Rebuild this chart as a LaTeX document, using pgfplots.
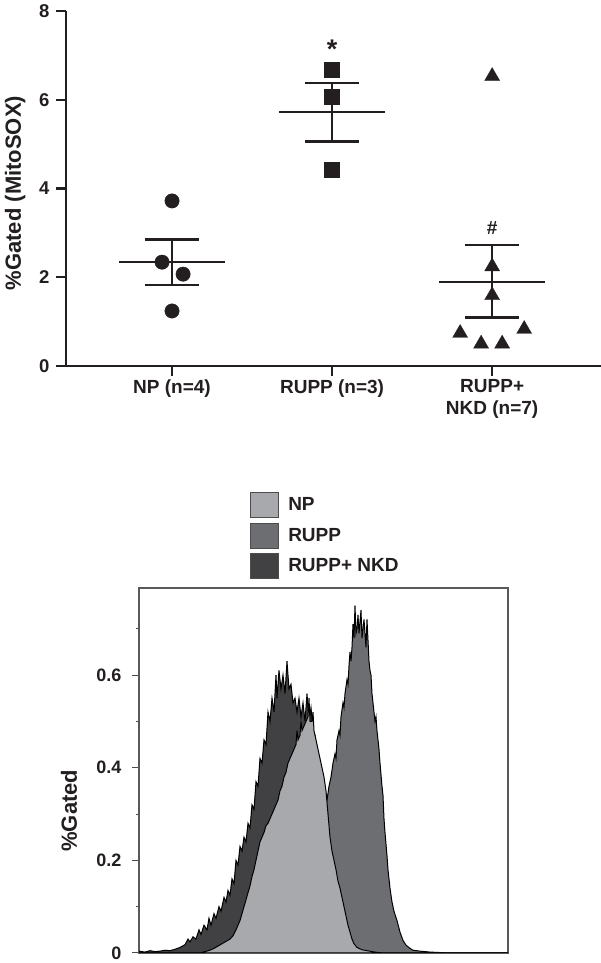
\documentclass[border=0pt]{standalone}
\usepackage{fontspec}
\setmainfont{Liberation Sans}
\usepackage{pgfplots}
\pgfplotsset{compat=1.18}
\definecolor{ink}{HTML}{231F20}
\definecolor{npgray}{HTML}{A7A9AC}
\definecolor{ruppgray}{HTML}{6D6E71}
\definecolor{nkdgray}{HTML}{414042}

\begin{document}
\begin{tikzpicture}[x=1pt,y=1pt]
\useasboundingbox (0,0) rectangle (601,963);

% ---- scatter: %Gated (MitoSOX) ----
\begin{axis}[
  at={(66pt,597pt)}, anchor=south west, scale only axis,
  width=535pt, height=355pt,
  xmin=-0.6625, xmax=2.68, ymin=0, ymax=8,
  axis lines*=left,
  axis line style={ink, line width=2.6pt},
  tick align=outside, major tick length=10pt,
  tick style={ink, line width=2.2pt},
  xtick={0,1,2}, ytick={0,2,4,6,8},
  xticklabels={NP (n=4), RUPP (n=3), {RUPP+\\NKD (n=7)}},
  xticklabel style={font=\bfseries\fontsize{19}{22}\selectfont, text=ink, align=center},
  yticklabel style={font=\bfseries\fontsize{18.5}{18.5}\selectfont, text=ink, xshift=-3pt},
  /pgf/number format/assume math mode=true,
  ylabel={\%Gated (MitoSOX)},
  ylabel style={font=\bfseries\fontsize{22}{22}\selectfont, text=ink,
                at={(axis description cs:-0.095,0.487)}, anchor=center},
  clip=false,
]
\addplot[only marks, mark=*, mark size=7.2pt, ink]
  coordinates {(0,3.72)(-0.0625,2.34)(0.069,2.07)(0,1.24)};
\addplot[only marks, mark=square*, mark size=7.5pt, ink]
  coordinates {(1,6.67)(1,6.06)(1,4.43)};
\addplot[only marks, mark=triangle*, mark size=8.6pt, ink]
  coordinates {(2,6.53)(2,2.24)(2,1.59)(1.8,0.74)(1.931,0.50)(2.0625,0.50)(2.2,0.83)};
% mean and SEM
\addplot[ink, line width=2.3pt] coordinates {(-0.33,2.34)(0.33,2.34)};
\addplot[ink, line width=2.3pt] coordinates {(-0.17,2.85)(0.17,2.85)};
\addplot[ink, line width=2.3pt] coordinates {(-0.17,1.83)(0.17,1.83)};
\addplot[ink, line width=2.3pt] coordinates {(0,1.83)(0,2.85)};
\addplot[ink, line width=2.3pt] coordinates {(0.67,5.72)(1.33,5.72)};
\addplot[ink, line width=2.3pt] coordinates {(0.83,6.38)(1.17,6.38)};
\addplot[ink, line width=2.3pt] coordinates {(0.83,5.06)(1.17,5.06)};
\addplot[ink, line width=2.3pt] coordinates {(1,5.06)(1,6.38)};
\addplot[ink, line width=2.3pt] coordinates {(1.67,1.90)(2.33,1.90)};
\addplot[ink, line width=2.3pt] coordinates {(1.83,2.72)(2.17,2.72)};
\addplot[ink, line width=2.3pt] coordinates {(1.83,1.09)(2.17,1.09)};
\addplot[ink, line width=2.3pt] coordinates {(2,1.09)(2,2.72)};
\node[font=\bfseries\fontsize{27}{27}\selectfont, text=ink, anchor=base] at (axis cs:1,6.92) {*};
\node[font=\bfseries\fontsize{19}{19}\selectfont, text=ink, anchor=base] at (axis cs:2,2.97) {\#};
\end{axis}

% ---- histogram ----
\begin{axis}[
  at={(139pt,10pt)}, anchor=south west, scale only axis,
  width=369pt, height=365pt,
  xmin=139, xmax=508, ymin=0, ymax=0.788,
  axis line style={black!65, line width=1.2pt},
  xtick=\empty, ytick={0,0.2,0.4,0.6}, minor ytick={0.1,0.3,0.5,0.7},
  ytick pos=left, tick align=outside,
  major tick length=7pt, minor tick length=3.5pt,
  tick style={black!70, line width=1pt},
  yticklabel style={font=\bfseries\fontsize{18}{18}\selectfont, text=ink, xshift=-7pt},
  /pgf/number format/assume math mode=true,
  ylabel={\%Gated},
  ylabel style={font=\bfseries\fontsize{22}{22}\selectfont, text=ink,
                at={(axis description cs:-0.19,0.39)}, anchor=center},
  legend image code/.code={\draw[#1, draw=black!70, line width=1pt] (0pt,-12.5pt) rectangle (28pt,12.5pt);},
  legend style={at={(axis description cs:0.301,1.263)}, anchor=north west,
                draw=none, fill=none, inner sep=0pt,
                font=\bfseries\fontsize{19}{19}\selectfont, text=ink,
                row sep=4.5pt,
                /tikz/every odd column/.append style={column sep=7pt}},
  legend cell align=left,
]
\addlegendimage{fill=npgray}
\addlegendentry{NP}
\addlegendimage{fill=ruppgray}
\addlegendentry{RUPP}
\addlegendimage{fill=nkdgray}
\addlegendentry{RUPP+ NKD}

\addplot[fill=ruppgray, draw=black, line width=1pt, forget plot] coordinates {
 (260,0)(280,0.005)(290,0.02)(300,0.05)(310,0.1)(316,0.16)(320,0.22)(324,0.3)
 (327,0.33)(329,0.36)(331,0.38)(333,0.41)(335,0.43)(336,0.42)(337,0.46)(339,0.48)
 (340,0.47)(341,0.51)(343,0.54)(344,0.53)(345,0.56)(347,0.59)(348,0.58)(349,0.62)
 (350,0.65)(351,0.63)(352,0.66)(353,0.71)(354,0.68)(355,0.75)(356,0.69)(357,0.7)
 (358,0.73)(359,0.69)(361,0.74)(362,0.68)(363,0.7)(364,0.72)(366,0.66)(367,0.72)
 (369,0.63)(370,0.61)(371,0.6)(372,0.56)(373,0.54)(375,0.5)(376,0.51)(377,0.48)
 (378,0.46)(379,0.44)(380,0.41)(382,0.36)(383,0.34)(384,0.29)(385,0.26)(387,0.21)
 (388,0.18)(390,0.14)(392,0.11)(394,0.09)(397,0.07)(400,0.045)(403,0.027)
 (406,0.017)(410,0.01)(413,0.006)(420,0.004)(430,0.002)(440,0.001)(450,0)(508,0)
} \closedcycle;

\addplot[fill=nkdgray, draw=black, line width=1pt, forget plot] coordinates {
 (139,0.004)(145,0.002)(150,0.005)(155,0.003)(160,0.004)(165,0.006)(170,0.005)
 (175,0.008)(180,0.012)(185,0.018)(188,0.03)(190,0.024)(193,0.035)(196,0.03)
 (199,0.05)(201,0.04)(204,0.06)(207,0.05)(209,0.075)(211,0.06)(214,0.085)
 (216,0.075)(219,0.1)(221,0.09)(224,0.12)(226,0.11)(228,0.135)(230,0.125)
 (232,0.16)(234,0.15)(236,0.2)(238,0.19)(240,0.23)(242,0.22)(244,0.25)(246,0.24)
 (248,0.28)(250,0.27)(252,0.32)(254,0.31)(256,0.37)(258,0.36)(260,0.42)(262,0.41)
 (264,0.46)(266,0.45)(268,0.52)(270,0.5)(272,0.55)(274,0.52)(276,0.6)(277,0.55)
 (279,0.61)(281,0.57)(283,0.6)(285,0.56)(287,0.63)(289,0.57)(291,0.58)(293,0.54)
 (295,0.55)(297,0.52)(299,0.55)(301,0.51)(303,0.54)(305,0.5)(307,0.56)(309,0.5)
 (311,0.53)(313,0.48)(315,0.47)(317,0.44)(319,0.42)(322,0.36)(326,0.28)(330,0.2)
 (335,0.12)(340,0.07)(345,0.035)(350,0.015)(355,0.005)(360,0.002)(370,0)
} \closedcycle;

\addplot[fill=npgray, draw=black, line width=1pt, forget plot] coordinates {
 (139,0)(200,0)(205,0.003)(210,0.006)(214,0.01)(218,0.015)(222,0.02)(226,0.025)
 (230,0.03)(233,0.037)(236,0.05)(238,0.06)(240,0.07)(242,0.085)(244,0.1)
 (246,0.115)(248,0.13)(250,0.145)(252,0.165)(254,0.18)(256,0.2)(258,0.22)
 (260,0.24)(262,0.25)(264,0.26)(266,0.275)(268,0.28)(270,0.29)(272,0.3)(274,0.31)
 (276,0.32)(278,0.33)(280,0.35)(282,0.36)(284,0.38)(286,0.39)(288,0.41)(290,0.42)
 (292,0.43)(294,0.44)(296,0.45)(297,0.48)(298,0.46)(300,0.47)(301,0.5)(302,0.48)
 (304,0.49)(306,0.5)(308,0.51)(309,0.55)(310,0.5)(312,0.5)(313,0.52)(314,0.48)
 (316,0.46)(318,0.44)(320,0.42)(322,0.4)(324,0.38)(326,0.35)(328,0.3)(330,0.25)
 (332,0.22)(334,0.2)(336,0.18)(338,0.155)(340,0.14)(342,0.12)(344,0.1)(346,0.08)
 (348,0.06)(350,0.045)(352,0.03)(354,0.02)(357,0.012)(362,0.007)(367,0.005)
 (372,0.003)(378,0.001)(385,0)(508,0)
} \closedcycle;
\end{axis}
\end{tikzpicture}
\end{document}
